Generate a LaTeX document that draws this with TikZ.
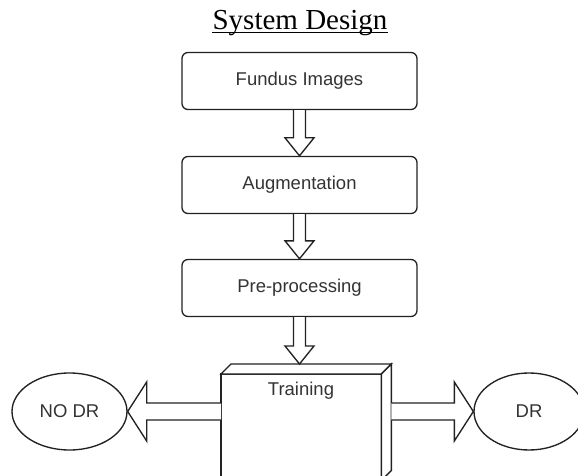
\documentclass[tikz,border=0pt]{standalone}
\usepackage{fontspec}
\setmainfont{Liberation Sans}
\newfontfamily\titlefont{Liberation Serif}
\usetikzlibrary{shapes.geometric,calc}

\definecolor{edge}{HTML}{222222}
\definecolor{ink}{HTML}{333333}

% hollow block arrow pointing down, from the bottom of #1 to the point #2
\newcommand{\downblock}[2]{%
  \draw[blockarrow] ($(#1)+(-6,0)$) -- ($(#2)+(-6,-18)$) -- ($(#2)+(-14.5,-18)$)
    -- (#2) -- ($(#2)+(14.5,-18)$) -- ($(#2)+(6,-18)$) -- ($(#1)+(6,0)$);}
% hollow block arrow pointing sideways; #3 is -1 (left) or 1 (right)
\newcommand{\sideblock}[3]{%
  \draw[blockarrow] ($(#1)+(0,-8.5)$) -- ($(#2)+(-19*#3,-8.5)$) -- ($(#2)+(-19*#3,-29.5)$)
    -- (#2) -- ($(#2)+(-19*#3,29.5)$) -- ($(#2)+(-19*#3,8.5)$) -- ($(#1)+(0,8.5)$);}

\begin{document}
\begin{tikzpicture}[x=1pt,y=-1pt,
  every node/.style={font=\fontsize{18.5}{20}\selectfont, text=ink},
  stage/.style={draw=edge, line width=1.35pt, rounded corners=6pt,
    minimum width=235pt, minimum height=57pt, inner sep=0pt},
  outcome/.style={ellipse, draw=edge, line width=1.35pt, minimum height=77pt, inner sep=0pt},
  blockarrow/.style={draw=edge, fill=white, line width=1.35pt, line join=miter},
  cubeline/.style={draw=edge, fill=white, line width=1.35pt, line join=miter}]
\useasboundingbox (0,0) rectangle (578,476);
\clip (0,0) rectangle (578,476);

% heading
\node[anchor=base, inner sep=0pt, font=\titlefont\fontsize{29}{30}\selectfont, text=black]
  (title) at (300,30) {System Design};
\draw[black, line width=1pt] ($(title.base west)+(0,3)$) -- ($(title.base east)+(0,3)$);

% pipeline stages
\node[stage] (fundus) at (299.5,81)    {Fundus Images};
\node[stage] (augment) at (299.5,185)  {Augmentation};
\node[stage] (prep) at (299.5,288)     {Pre-processing};

% training block drawn as a cube
\node[minimum width=170pt, minimum height=116pt, inner sep=0pt, anchor=north west]
  (train) at (221,364) {};
\draw[cubeline] ($(train.north west)+(0,10)$) rectangle ($(train.south east)+(-10,0)$);
\draw[cubeline] ($(train.north west)+(0,10)$) -- ($(train.north west)+(10,0)$)
  -- (train.north east) -- ($(train.north east)+(-10,10)$) -- cycle;
\draw[cubeline] ($(train.north east)+(-10,10)$) -- (train.north east)
  -- ($(train.south east)+(0,-10)$) -- ($(train.south east)+(-10,0)$) -- cycle;
\node[anchor=base, inner sep=0pt] (trainlabel) at ($(train.north west)+(80,31)$) {Training};

% outcomes
\node[outcome, minimum width=115pt] (nodr) at (69.5,411.5) {NO DR};
\node[outcome, minimum width=110pt] (dr) at (529,411.5) {DR};

% flow arrows
\downblock{fundus.south}{augment.north}
\downblock{augment.south}{prep.north}
\coordinate (traintop) at (prep.south |- train.north);
\downblock{prep.south}{traintop}
\coordinate (leftstart) at (train.west |- nodr.east);
\coordinate (rightstart) at (train.east |- dr.west);
\sideblock{leftstart}{nodr.east}{-1}
\sideblock{rightstart}{dr.west}{1}
\end{tikzpicture}
\end{document}
